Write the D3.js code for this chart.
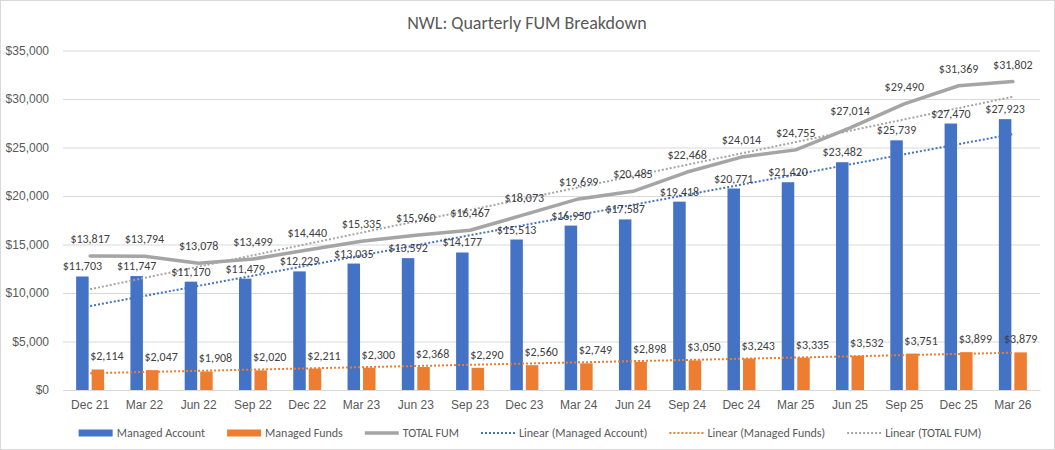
<!DOCTYPE html>
<html><head><meta charset="utf-8">
<script src="https://cdn.jsdelivr.net/npm/d3@7"></script>
<style>
body{margin:0;background:#fff;}
svg{display:block;font-family:Calibri,Carlito,Lato,"Liberation Sans",sans-serif;}
</style></head>
<body><svg id="c" width="1055" height="450"></svg>
<script>
const categories = ["Dec 21","Mar 22","Jun 22","Sep 22","Dec 22","Mar 23","Jun 23","Sep 23","Dec 23","Mar 24","Jun 24","Sep 24","Dec 24","Mar 25","Jun 25","Sep 25","Dec 25","Mar 26"];
const managedAccount = [11703,11747,11170,11479,12229,13035,13592,14177,15513,16950,17587,19418,20771,21420,23482,25739,27470,27923];
const managedFunds = [2114,2047,1908,2020,2211,2300,2368,2290,2560,2749,2898,3050,3243,3335,3532,3751,3899,3879];
const totalFUM = [13817,13794,13078,13499,14440,15335,15960,16467,18073,19699,20485,22468,24014,24755,27014,29490,31369,31802];
const yTicks = [0,5000,10000,15000,20000,25000,30000,35000];
const title = "NWL: Quarterly FUM Breakdown";
const legendLabels = ["Managed Account","Managed Funds","TOTAL FUM","Linear (Managed Account)","Linear (Managed Funds)","Linear (TOTAL FUM)"];

const C = {blue:"#4472C4", orange:"#ED7D31", gray:"#A5A5A5", grid:"#D9D9D9", text:"#595959", label:"#404040"};
const svg = d3.select("#c");
svg.append("rect").attr("x",0.5).attr("y",0.5).attr("width",1054).attr("height",449).attr("fill","#fff").attr("stroke","#D9D9D9");

const L=63, R=1040, T=50.5, B=390;
const x = d3.scaleBand().domain(categories).range([L,R]);
const y = d3.scaleLinear().domain([0,35000]).range([B,T]);
const bw = 12.5, gap = 3;

// title
svg.append("text").attr("x",527).attr("y",29).attr("text-anchor","middle")
  .attr("fill",C.text).attr("font-size",18).text(title);

// y axis with gridlines
const ya = svg.append("g").attr("transform",`translate(${L},0)`)
  .call(d3.axisLeft(y).tickValues(yTicks).tickFormat(d3.format("$,")).tickSize(-(R-L)).tickPadding(14));
ya.select(".domain").remove();
ya.selectAll(".tick line").attr("stroke",C.grid).attr("stroke-width",1);
ya.selectAll(".tick text").attr("fill",C.text).attr("font-size",12).attr("font-family",null);

// x axis
const xa = svg.append("g").attr("transform",`translate(0,${B})`)
  .call(d3.axisBottom(x).tickSize(0).tickPadding(10));
xa.select(".domain").attr("stroke",C.grid);
xa.selectAll(".tick text").attr("fill",C.text).attr("font-size",12).attr("font-family",null);

const cx = i => x(categories[i]) + x.bandwidth()/2;
const blueX = i => cx(i) - gap/2 - bw;
const orX = i => cx(i) + gap/2;

// bars
svg.append("g").selectAll("rect").data(managedAccount).join("rect")
  .attr("x",(d,i)=>blueX(i)).attr("width",bw).attr("y",d=>y(d)).attr("height",d=>B-y(d)).attr("fill",C.blue);
svg.append("g").selectAll("rect").data(managedFunds).join("rect")
  .attr("x",(d,i)=>orX(i)).attr("width",bw).attr("y",d=>y(d)).attr("height",d=>B-y(d)).attr("fill",C.orange);

// linear trendlines (least squares)
function linfit(vals){
  const n=vals.length, xs=vals.map((v,i)=>i+1);
  const mx=d3.mean(xs), my=d3.mean(vals);
  let sxy=0,sxx=0; xs.forEach((xx,i)=>{sxy+=(xx-mx)*(vals[i]-my); sxx+=(xx-mx)*(xx-mx);});
  const b=sxy/sxx, a=my-b*mx;
  return vals.map((v,i)=>a+b*(i+1));
}
const line = d3.line().x((d,i)=>cx(i)).y(d=>y(d));
function trend(vals,color){
  svg.append("path").attr("d",line(linfit(vals))).attr("fill","none").attr("stroke",color)
    .attr("stroke-width",2).attr("stroke-dasharray","2 2");
}
trend(managedAccount,C.blue);
trend(managedFunds,C.orange);
trend(totalFUM,C.gray);

// total line
svg.append("path").attr("d",line(totalFUM)).attr("fill","none").attr("stroke",C.gray)
  .attr("stroke-width",3.5).attr("stroke-linejoin","round").attr("stroke-linecap","round");

// data labels
const fmt = d3.format("$,");
const lab = svg.append("g").attr("fill",C.label).attr("font-size",12).attr("text-anchor","middle");
lab.selectAll(".ma").data(managedAccount).join("text")
  .attr("x",(d,i)=>blueX(i)+bw/2).attr("y",d=>y(d)-6).text(d=>fmt(d));
lab.selectAll(".mf").data(managedFunds).join("text")
  .attr("x",(d,i)=>orX(i)+bw/2+(i===managedFunds.length-1?0:9)).attr("y",d=>y(d)-9).text(d=>fmt(d));
lab.selectAll(".tf").data(totalFUM).join("text")
  .attr("x",(d,i)=>cx(i)).attr("y",d=>y(d)-13).text(d=>fmt(d));

// legend
const lg = svg.append("g").attr("font-size",12).attr("fill",C.text);
const items = [
  {t:legendLabels[0], kind:"rect", c:C.blue},
  {t:legendLabels[1], kind:"rect", c:C.orange},
  {t:legendLabels[2], kind:"line", c:C.gray},
  {t:legendLabels[3], kind:"dot", c:C.blue},
  {t:legendLabels[4], kind:"dot", c:C.orange},
  {t:legendLabels[5], kind:"dot", c:C.gray}
];
const ly = 433;
const groups = items.map(it=>{
  const g = lg.append("g");
  if(it.kind==="rect") g.append("rect").attr("x",0).attr("y",ly-3.5).attr("width",34).attr("height",7).attr("fill",it.c);
  else g.append("line").attr("x1",0).attr("x2",34).attr("y1",ly).attr("y2",ly).attr("stroke",it.c)
      .attr("stroke-width",it.kind==="line"?3.5:2).attr("stroke-dasharray",it.kind==="dot"?"2 2":null);
  const t = g.append("text").attr("x",38).attr("y",ly+4).text(it.t);
  return {g, w:38+t.node().getComputedTextLength()};
});
const lgGap = 22;
const total = d3.sum(groups,d=>d.w)+lgGap*(groups.length-1);
let lx = 530 - total/2;
groups.forEach(gr=>{gr.g.attr("transform",`translate(${lx},0)`); lx += gr.w+lgGap;});
</script></body></html>
